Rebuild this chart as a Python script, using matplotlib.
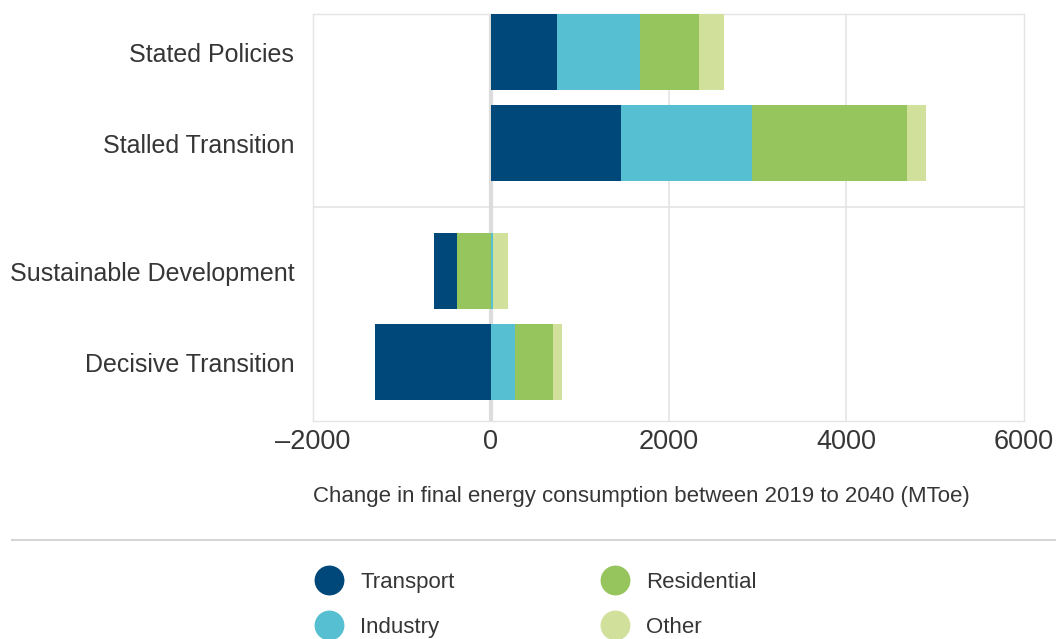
import matplotlib
matplotlib.use("Agg")
import matplotlib.pyplot as plt
from matplotlib.lines import Line2D

plt.rcParams['font.family'] = ['Liberation Sans', 'DejaVu Sans']

scenarios = ["Stated Policies", "Stalled Transition", "Sustainable Development", "Decisive Transition"]
sectors = ["Transport", "Industry", "Residential", "Other"]
transport = [742, 1462, -259, -1305]
industry = [934, 1474, 22, 270]
residential = [664, 1744, -383, 427]
other = [281, 214, 169, 101]
xticks = [-2000, 0, 2000, 4000, 6000]
xtick_labels = ["\u20132000", "0", "2000", "4000", "6000"]
xlabel = "Change in final energy consumption between 2019 to 2040 (MToe)"

colors = ["#00477a", "#56bfd1", "#96c55e", "#d1e09b"]
series = [transport, industry, residential, other]
ypos = [0, 1, 2.407, 3.407]
grid_c = "#e4e4e4"
text_c = "#363636"

fig = plt.figure(figsize=(10.56, 6.39), dpi=100)
ax = fig.add_axes([313/1056, 1-421/639, (1024-313)/1056, (421-14)/639])

# stacking: positives in sector order from zero; negatives with residential nearest zero
lefts = {k: [0.0]*4 for k in range(4)}
for j in range(4):
    p = 0.0
    for k in [0, 1, 2, 3]:
        v = series[k][j]
        if v >= 0:
            lefts[k][j] = p
            p += v
    n = 0.0
    for k in [2, 1, 3, 0]:
        v = series[k][j]
        if v < 0:
            lefts[k][j] = n
            n += v

for k in range(4):
    ax.barh(ypos, series[k], left=lefts[k], height=0.835, color=colors[k],
            label=sectors[k], zorder=3, linewidth=0)

ax.set_xlim(-2000, 6000)
ax.set_ylim(4.055, -0.418)
ax.set_xticks(xticks)
ax.set_xticklabels(xtick_labels, fontsize=19.5, color=text_c)
ax.set_yticks(ypos)
ax.set_yticklabels(scenarios, fontsize=18, color=text_c)
ax.tick_params(axis='both', length=0)
ax.tick_params(axis='y', pad=13.5)
ax.tick_params(axis='x', pad=6)
for x in [2000, 4000]:
    ax.axvline(x, color=grid_c, lw=1.2, zorder=1)
ax.axvline(0, color="#dcdcdc", lw=3, zorder=2)
ax.axhline(1.703, color=grid_c, lw=1.2, zorder=1)
for s in ax.spines.values():
    s.set_color(grid_c)
    s.set_linewidth(1.0)
ax.set_xlabel(xlabel, loc='left', fontsize=16, color=text_c, labelpad=22)

fig.add_artist(Line2D([12/1056, 1.0], [1-540/639, 1-540/639], transform=fig.transFigure,
                      color="#d6d6d6", lw=1.5))

handles = [Line2D([0], [0], marker='o', linestyle='none', markersize=21.5,
                  markerfacecolor=colors[k], markeredgewidth=0) for k in range(4)]
leg = fig.legend(handles, sectors, ncol=2, loc='upper left',
                 bbox_to_anchor=(313.5/1056, 1-572/639), frameon=False,
                 fontsize=16, handlelength=1.4, handletextpad=0.7,
                 columnspacing=6.5, labelspacing=1.07, borderpad=0, borderaxespad=0)
for t in leg.get_texts():
    t.set_color(text_c)

fig.savefig("out.png", dpi=100, facecolor="white")
